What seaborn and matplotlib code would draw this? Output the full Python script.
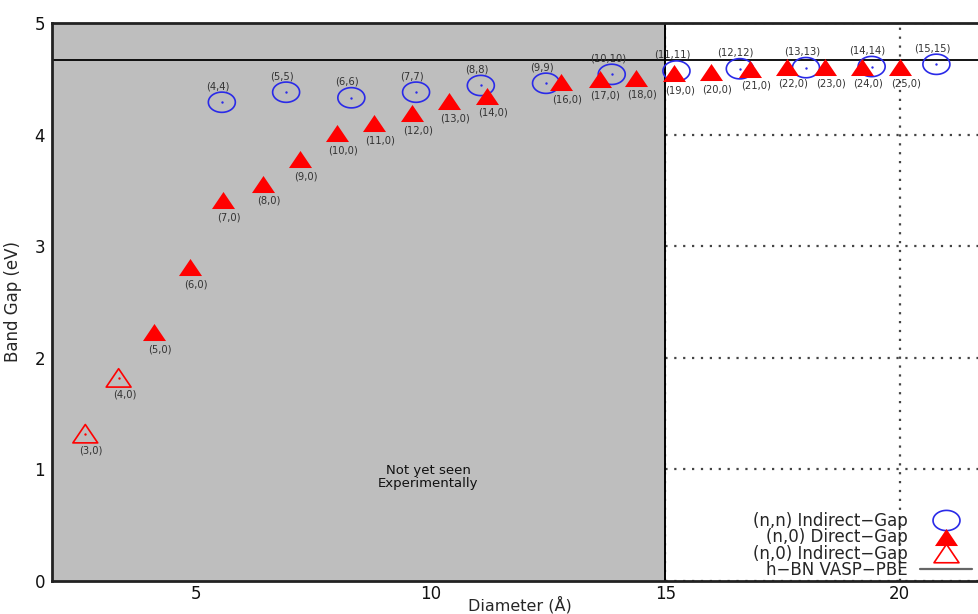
import numpy as np
import matplotlib
matplotlib.use("Agg")
import matplotlib.pyplot as plt
from matplotlib.path import Path
from matplotlib.lines import Line2D
import seaborn as sns

# (n,n) armchair tubes - indirect gap
armchair_labels = ["(4,4)", "(5,5)", "(6,6)", "(7,7)", "(8,8)", "(9,9)",
                   "(10,10)", "(11,11)", "(12,12)", "(13,13)", "(14,14)", "(15,15)"]
armchair_diam = [5.55, 6.92, 8.31, 9.69, 11.07, 12.46, 13.86, 15.24, 16.59, 18.00, 19.40, 20.78]
armchair_gap = [4.29, 4.38, 4.33, 4.38, 4.44, 4.46, 4.54, 4.57, 4.59, 4.60, 4.61, 4.63]

# (n,0) zigzag tubes - direct gap
zigzag_direct_labels = ["(5,0)", "(6,0)", "(7,0)", "(8,0)", "(9,0)", "(10,0)", "(11,0)",
                        "(12,0)", "(13,0)", "(14,0)", "(16,0)", "(17,0)", "(18,0)",
                        "(19,0)", "(20,0)", "(21,0)", "(22,0)", "(23,0)", "(24,0)", "(25,0)"]
zigzag_direct_diam = [4.10, 4.87, 5.58, 6.43, 7.21, 8.01, 8.80, 9.61, 10.39, 11.20,
                      12.78, 13.60, 14.38, 15.19, 15.98, 16.80, 17.59, 18.40, 19.19, 20.01]
zigzag_direct_gap = [2.23, 2.81, 3.41, 3.56, 3.78, 4.01, 4.10, 4.19, 4.30, 4.35,
                     4.47, 4.50, 4.51, 4.55, 4.56, 4.59, 4.61, 4.61, 4.61, 4.61]

# (n,0) zigzag tubes - indirect gap
zigzag_indirect_labels = ["(3,0)", "(4,0)"]
zigzag_indirect_diam = [2.64, 3.35]
zigzag_indirect_gap = [1.32, 1.82]

hbn_gap = 4.67
exp_limit = 15

legend_labels = ["(n,n) Indirect\u2212Gap", "(n,0) Direct\u2212Gap",
                 "(n,0) Indirect\u2212Gap", "h\u2212BN VASP\u2212PBE"]


def main():
    sns.set_theme(style="white")
    plt.rcParams["font.family"] = ["DejaVu Sans"]

    # custom squashed markers (ellipse and flat triangle)
    t = np.linspace(0, 2 * np.pi, 61)
    ellipse = Path(np.column_stack([np.cos(t), 0.75 * np.sin(t)]), closed=True)
    tri = Path([(0, 0.74), (-1, -0.74), (1, -0.74), (0, 0.74)], closed=True)

    blue = "#2a2ae8"
    red = "#ff0000"

    fig = plt.figure(figsize=(9.79, 6.14), dpi=100)
    ax = fig.add_axes([52 / 979, 1 - 581 / 614, 936 / 979, 558 / 614])

    # 1. background: grid, shaded "not seen" region, reference lines
    ax.set_xlim(1.93, 21.88)
    ax.set_ylim(0, 5)
    ax.set_xticks([5, 10, 15, 20])
    ax.set_yticks([0, 1, 2, 3, 4, 5])
    ax.grid(True, color="#444444", linewidth=1.6, linestyle=(0, (1, 3)))
    ax.set_axisbelow(True)
    ax.axvspan(1.93, exp_limit, color="#bebebe", zorder=1, lw=0)
    ax.axvline(exp_limit, color="black", lw=1.4, zorder=2)
    ax.axhline(hbn_gap, color="black", lw=1.3, zorder=2)

    # 2. data points
    sns.scatterplot(x=armchair_diam, y=armchair_gap, marker=ellipse, s=378,
                    facecolor="none", edgecolor=blue, linewidth=1.2, ax=ax, zorder=3)
    sns.scatterplot(x=armchair_diam, y=armchair_gap, s=3, color=blue,
                    linewidth=0, ax=ax, zorder=3)
    sns.scatterplot(x=zigzag_direct_diam, y=zigzag_direct_gap, marker=tri, s=275,
                    color=red, linewidth=0, ax=ax, zorder=4)
    sns.scatterplot(x=zigzag_indirect_diam, y=zigzag_indirect_gap, marker=tri, s=320,
                    facecolor="none", edgecolor=red, linewidth=1.2, ax=ax, zorder=4)
    sns.scatterplot(x=zigzag_indirect_diam, y=zigzag_indirect_gap, s=3, color=red,
                    linewidth=0, ax=ax, zorder=4)

    # 3. point labels
    for lbl, x, y in zip(armchair_labels, armchair_diam, armchair_gap):
        ax.annotate(lbl, (x, y), xytext=(-4, 16), textcoords="offset pixels",
                    ha="center", va="center", fontsize=7.2, color="#333333", zorder=5)
    for lbl, x, y in zip(zigzag_direct_labels + zigzag_indirect_labels,
                         zigzag_direct_diam + zigzag_indirect_diam,
                         zigzag_direct_gap + zigzag_indirect_gap):
        ax.annotate(lbl, (x, y), xytext=(6, -17), textcoords="offset pixels",
                    ha="center", va="center", fontsize=7.2, color="#333333", zorder=5)

    ax.text(9.95, 0.93, "Not yet seen\nExperimentally", ha="center", va="center",
            fontsize=9.5, linespacing=1.0, color="#111111")

    # 4. axes styling
    for side in ["left", "bottom", "top"]:
        ax.spines[side].set_color("#222222")
        ax.spines[side].set_linewidth(2)
    ax.spines["right"].set_visible(False)
    ax.tick_params(axis="both", length=0, labelsize=12, colors="#111111")
    ax.tick_params(axis="x", pad=3)
    ax.tick_params(axis="y", pad=5)
    ax.set_xlabel("Diameter (\u00c5)", fontsize=11.5, labelpad=-5)
    ax.set_ylabel("Band Gap (eV)", fontsize=12, labelpad=9)

    # 5. legend (markers on the right)
    handles = [
        Line2D([], [], ls="none", marker=ellipse, markersize=19.4,
               mfc="none", mec=blue, mew=1.2),
        Line2D([], [], ls="none", marker=tri, markersize=16.6,
               mfc=red, mec=red, mew=0),
        Line2D([], [], ls="none", marker=tri, markersize=18,
               mfc="none", mec=red, mew=1.2),
        Line2D([], [], color="#666666", lw=1.6),
    ]
    ax.legend(handles, legend_labels, loc="lower right",
              bbox_to_anchor=(972 / 979, 35 / 614), bbox_transform=fig.transFigure,
              frameon=False, markerfirst=False, fontsize=12, labelspacing=-0.1,
              handlelength=3.1, handletextpad=0.75, borderpad=0, borderaxespad=0)

    fig.savefig("out.png", dpi=100)
    plt.close(fig)


if __name__ == "__main__":
    main()
